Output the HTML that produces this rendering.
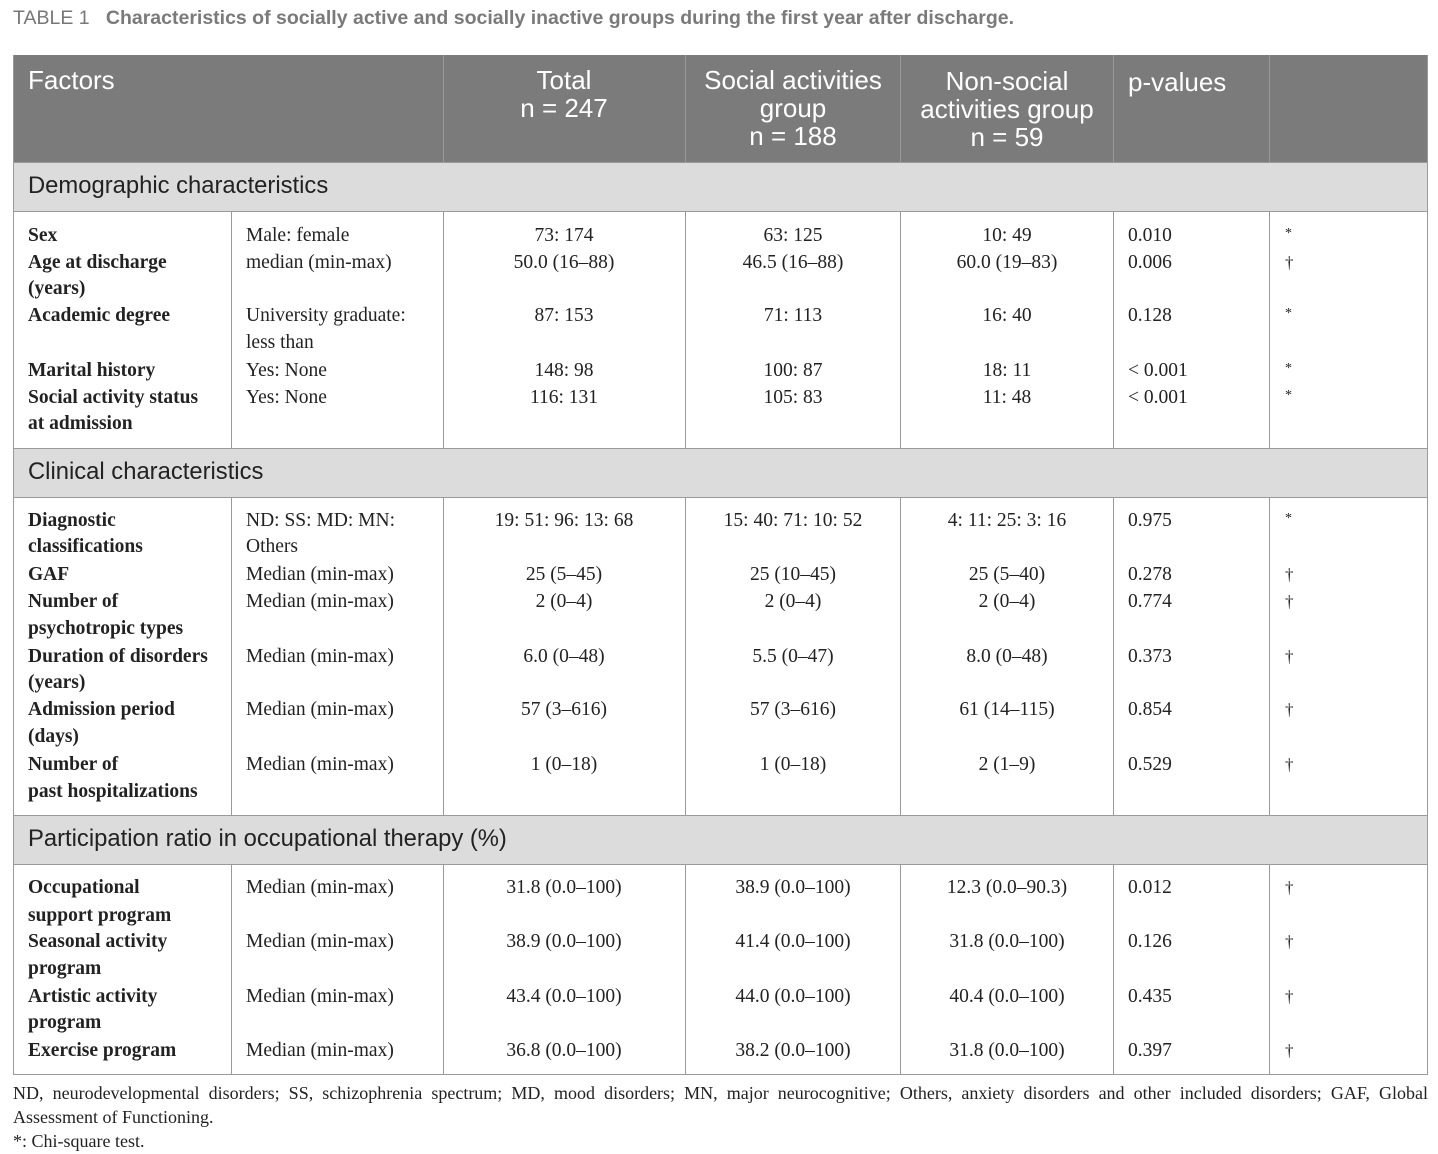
<!DOCTYPE html>
<html><head><meta charset="utf-8">
<style>
*{margin:0;padding:0;box-sizing:border-box}
body{width:1438px;height:1154px;background:#fff;position:relative;overflow:hidden;font-family:"Liberation Serif",serif;color:#222}
.a{position:absolute}
.t{position:absolute;white-space:nowrap;font-size:19.5px;line-height:22px}
.b{font-weight:bold}
.c{transform:translateX(-50%)}
.h{position:absolute;font-family:"Liberation Sans",sans-serif;font-size:26px;color:#fff;line-height:28px;text-align:center;white-space:nowrap}
.s{position:absolute;left:28px;font-family:"Liberation Sans",sans-serif;font-size:23.8px;color:#222;line-height:26px}
.vl{position:absolute;width:1px;background:#9a9a9a}
.hl{position:absolute;height:1px;background:#9a9a9a;left:13px;width:1415px}
.f{position:absolute;left:13px;width:1415px;font-size:18px;line-height:24px;color:#222;white-space:nowrap}
</style></head><body>
<div class="a" style="left:13px;top:7px;font-family:'Liberation Sans',sans-serif;font-size:19.5px;color:#777;white-space:nowrap">TABLE 1&nbsp;&nbsp; <span style="font-weight:bold;color:#7a7a7a">Characteristics of socially active and socially inactive groups during the first year after discharge.</span></div>

<div class="a" style="left:13px;top:55px;width:1415px;height:107px;background:#7b7b7b"></div>
<div class="a" style="left:13px;top:162px;width:1415px;height:49px;background:#dcdcdc"></div>
<div class="a" style="left:13px;top:448px;width:1415px;height:49px;background:#dcdcdc"></div>
<div class="a" style="left:13px;top:815px;width:1415px;height:49px;background:#dcdcdc"></div>

<div class="vl" style="left:443px;top:55px;height:107px;background:#999"></div>
<div class="vl" style="left:685px;top:55px;height:107px;background:#999"></div>
<div class="vl" style="left:900px;top:55px;height:107px;background:#999"></div>
<div class="vl" style="left:1113px;top:55px;height:107px;background:#999"></div>
<div class="vl" style="left:1269px;top:55px;height:107px;background:#999"></div>

<div class="vl" style="left:13px;top:55px;height:1020px"></div>
<div class="vl" style="left:1427px;top:55px;height:1020px"></div>
<div class="hl" style="top:162px"></div>
<div class="hl" style="top:211px"></div>
<div class="hl" style="top:448px"></div>
<div class="hl" style="top:497px"></div>
<div class="hl" style="top:815px"></div>
<div class="hl" style="top:864px"></div>
<div class="hl" style="top:1074px"></div>

<div class="vl" style="left:231px;top:211px;height:237px"></div>
<div class="vl" style="left:443px;top:211px;height:237px"></div>
<div class="vl" style="left:685px;top:211px;height:237px"></div>
<div class="vl" style="left:900px;top:211px;height:237px"></div>
<div class="vl" style="left:1113px;top:211px;height:237px"></div>
<div class="vl" style="left:1269px;top:211px;height:237px"></div>

<div class="vl" style="left:231px;top:497px;height:318px"></div>
<div class="vl" style="left:443px;top:497px;height:318px"></div>
<div class="vl" style="left:685px;top:497px;height:318px"></div>
<div class="vl" style="left:900px;top:497px;height:318px"></div>
<div class="vl" style="left:1113px;top:497px;height:318px"></div>
<div class="vl" style="left:1269px;top:497px;height:318px"></div>

<div class="vl" style="left:231px;top:864px;height:210px"></div>
<div class="vl" style="left:443px;top:864px;height:210px"></div>
<div class="vl" style="left:685px;top:864px;height:210px"></div>
<div class="vl" style="left:900px;top:864px;height:210px"></div>
<div class="vl" style="left:1113px;top:864px;height:210px"></div>
<div class="vl" style="left:1269px;top:864px;height:210px"></div>

<div class="h" style="left:28px;top:66px;text-align:left">Factors</div>
<div class="h c" style="left:564px;top:66px">Total<br>n = 247</div>
<div class="h c" style="left:793px;top:66px">Social activities<br>group<br>n = 188</div>
<div class="h c" style="left:1007px;top:67px">Non-social<br>activities group<br>n = 59</div>
<div class="h" style="left:1128px;top:68px;text-align:left">p-values</div>

<div class="s" style="top:173px">Demographic characteristics</div>
<div class="s" style="top:459px">Clinical characteristics</div>
<div class="s" style="top:826px">Participation ratio in occupational therapy (%)</div>

<div class="t b" style="left:28px;top:225px">Sex</div>
<div class="t b" style="left:28px;top:252px">Age at discharge</div>
<div class="t b" style="left:28px;top:278px">(years)</div>
<div class="t b" style="left:28px;top:305px">Academic degree</div>
<div class="t b" style="left:28px;top:360px">Marital history</div>
<div class="t b" style="left:28px;top:387px">Social activity status</div>
<div class="t b" style="left:28px;top:413px">at admission</div>

<div class="t" style="left:246px;top:225px">Male: female</div>
<div class="t" style="left:246px;top:252px">median (min-max)</div>
<div class="t" style="left:246px;top:305px">University graduate:</div>
<div class="t" style="left:246px;top:332px">less than</div>
<div class="t" style="left:246px;top:360px">Yes: None</div>
<div class="t" style="left:246px;top:387px">Yes: None</div>

<div class="t c" style="left:564px;top:225px">73: 174</div>
<div class="t c" style="left:564px;top:252px">50.0 (16–88)</div>
<div class="t c" style="left:564px;top:305px">87: 153</div>
<div class="t c" style="left:564px;top:360px">148: 98</div>
<div class="t c" style="left:564px;top:387px">116: 131</div>

<div class="t c" style="left:793px;top:225px">63: 125</div>
<div class="t c" style="left:793px;top:252px">46.5 (16–88)</div>
<div class="t c" style="left:793px;top:305px">71: 113</div>
<div class="t c" style="left:793px;top:360px">100: 87</div>
<div class="t c" style="left:793px;top:387px">105: 83</div>

<div class="t c" style="left:1007px;top:225px">10: 49</div>
<div class="t c" style="left:1007px;top:252px">60.0 (19–83)</div>
<div class="t c" style="left:1007px;top:305px">16: 40</div>
<div class="t c" style="left:1007px;top:360px">18: 11</div>
<div class="t c" style="left:1007px;top:387px">11: 48</div>

<div class="t" style="left:1128px;top:225px">0.010</div>
<div class="t" style="left:1128px;top:252px">0.006</div>
<div class="t" style="left:1128px;top:305px">0.128</div>
<div class="t" style="left:1128px;top:360px">&lt; 0.001</div>
<div class="t" style="left:1128px;top:387px">&lt; 0.001</div>

<div class="t" style="left:1285px;top:223px;font-size:14px">*</div>
<div class="t" style="left:1285px;top:252px;font-size:17px">†</div>
<div class="t" style="left:1285px;top:303px;font-size:14px">*</div>
<div class="t" style="left:1285px;top:358px;font-size:14px">*</div>
<div class="t" style="left:1285px;top:385px;font-size:14px">*</div>

<div class="t b" style="left:28px;top:510px">Diagnostic</div>
<div class="t b" style="left:28px;top:536px">classifications</div>
<div class="t b" style="left:28px;top:564px">GAF</div>
<div class="t b" style="left:28px;top:591px">Number of</div>
<div class="t b" style="left:28px;top:618px">psychotropic types</div>
<div class="t b" style="left:28px;top:646px">Duration of disorders</div>
<div class="t b" style="left:28px;top:672px">(years)</div>
<div class="t b" style="left:28px;top:699px">Admission period</div>
<div class="t b" style="left:28px;top:726px">(days)</div>
<div class="t b" style="left:28px;top:754px">Number of</div>
<div class="t b" style="left:28px;top:781px">past hospitalizations</div>

<div class="t" style="left:246px;top:510px">ND: SS: MD: MN:</div>
<div class="t" style="left:246px;top:536px">Others</div>
<div class="t" style="left:246px;top:564px">Median (min-max)</div>
<div class="t" style="left:246px;top:591px">Median (min-max)</div>
<div class="t" style="left:246px;top:646px">Median (min-max)</div>
<div class="t" style="left:246px;top:699px">Median (min-max)</div>
<div class="t" style="left:246px;top:754px">Median (min-max)</div>

<div class="t c" style="left:564px;top:510px">19: 51: 96: 13: 68</div>
<div class="t c" style="left:564px;top:564px">25 (5–45)</div>
<div class="t c" style="left:564px;top:591px">2 (0–4)</div>
<div class="t c" style="left:564px;top:646px">6.0 (0–48)</div>
<div class="t c" style="left:564px;top:699px">57 (3–616)</div>
<div class="t c" style="left:564px;top:754px">1 (0–18)</div>

<div class="t c" style="left:793px;top:510px">15: 40: 71: 10: 52</div>
<div class="t c" style="left:793px;top:564px">25 (10–45)</div>
<div class="t c" style="left:793px;top:591px">2 (0–4)</div>
<div class="t c" style="left:793px;top:646px">5.5 (0–47)</div>
<div class="t c" style="left:793px;top:699px">57 (3–616)</div>
<div class="t c" style="left:793px;top:754px">1 (0–18)</div>

<div class="t c" style="left:1007px;top:510px">4: 11: 25: 3: 16</div>
<div class="t c" style="left:1007px;top:564px">25 (5–40)</div>
<div class="t c" style="left:1007px;top:591px">2 (0–4)</div>
<div class="t c" style="left:1007px;top:646px">8.0 (0–48)</div>
<div class="t c" style="left:1007px;top:699px">61 (14–115)</div>
<div class="t c" style="left:1007px;top:754px">2 (1–9)</div>

<div class="t" style="left:1128px;top:510px">0.975</div>
<div class="t" style="left:1128px;top:564px">0.278</div>
<div class="t" style="left:1128px;top:591px">0.774</div>
<div class="t" style="left:1128px;top:646px">0.373</div>
<div class="t" style="left:1128px;top:699px">0.854</div>
<div class="t" style="left:1128px;top:754px">0.529</div>

<div class="t" style="left:1285px;top:508px;font-size:14px">*</div>
<div class="t" style="left:1285px;top:564px;font-size:17px">†</div>
<div class="t" style="left:1285px;top:591px;font-size:17px">†</div>
<div class="t" style="left:1285px;top:646px;font-size:17px">†</div>
<div class="t" style="left:1285px;top:699px;font-size:17px">†</div>
<div class="t" style="left:1285px;top:754px;font-size:17px">†</div>

<div class="t b" style="left:28px;top:877px">Occupational</div>
<div class="t b" style="left:28px;top:905px">support program</div>
<div class="t b" style="left:28px;top:931px">Seasonal activity</div>
<div class="t b" style="left:28px;top:958px">program</div>
<div class="t b" style="left:28px;top:986px">Artistic activity</div>
<div class="t b" style="left:28px;top:1012px">program</div>
<div class="t b" style="left:28px;top:1040px">Exercise program</div>

<div class="t" style="left:246px;top:877px">Median (min-max)</div>
<div class="t" style="left:246px;top:931px">Median (min-max)</div>
<div class="t" style="left:246px;top:986px">Median (min-max)</div>
<div class="t" style="left:246px;top:1040px">Median (min-max)</div>

<div class="t c" style="left:564px;top:877px">31.8 (0.0–100)</div>
<div class="t c" style="left:564px;top:931px">38.9 (0.0–100)</div>
<div class="t c" style="left:564px;top:986px">43.4 (0.0–100)</div>
<div class="t c" style="left:564px;top:1040px">36.8 (0.0–100)</div>

<div class="t c" style="left:793px;top:877px">38.9 (0.0–100)</div>
<div class="t c" style="left:793px;top:931px">41.4 (0.0–100)</div>
<div class="t c" style="left:793px;top:986px">44.0 (0.0–100)</div>
<div class="t c" style="left:793px;top:1040px">38.2 (0.0–100)</div>

<div class="t c" style="left:1007px;top:877px">12.3 (0.0–90.3)</div>
<div class="t c" style="left:1007px;top:931px">31.8 (0.0–100)</div>
<div class="t c" style="left:1007px;top:986px">40.4 (0.0–100)</div>
<div class="t c" style="left:1007px;top:1040px">31.8 (0.0–100)</div>

<div class="t" style="left:1128px;top:877px">0.012</div>
<div class="t" style="left:1128px;top:931px">0.126</div>
<div class="t" style="left:1128px;top:986px">0.435</div>
<div class="t" style="left:1128px;top:1040px">0.397</div>

<div class="t" style="left:1285px;top:877px;font-size:17px">†</div>
<div class="t" style="left:1285px;top:931px;font-size:17px">†</div>
<div class="t" style="left:1285px;top:986px;font-size:17px">†</div>
<div class="t" style="left:1285px;top:1040px;font-size:17px">†</div>

<div class="f" style="top:1081px;white-space:normal;text-align:justify;text-align-last:justify">ND, neurodevelopmental disorders; SS, schizophrenia spectrum; MD, mood disorders; MN, major neurocognitive; Others, anxiety disorders and other included disorders; GAF, Global</div>
<div class="f" style="top:1105px">Assessment of Functioning.</div>
<div class="f" style="top:1129px">*: Chi-square test.</div>
</body></html>
